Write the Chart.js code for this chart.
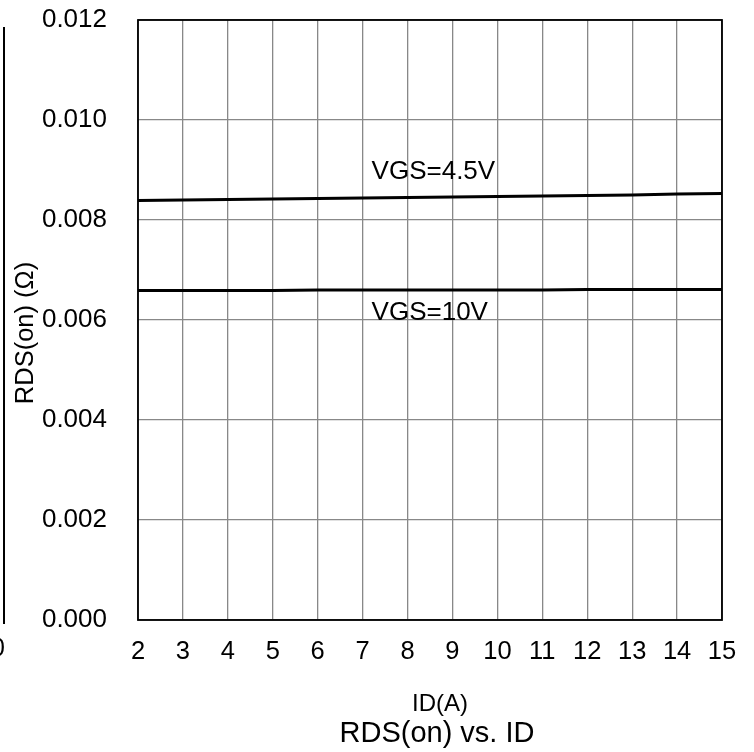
<!DOCTYPE html>
<html>
<head>
<meta charset="utf-8">
<script src="https://cdn.jsdelivr.net/npm/chart.js@4.4.1/dist/chart.umd.min.js"></script>
<style>
  html, body { margin: 0; padding: 0; background: #fff; }
  #wrap { position: relative; width: 754px; height: 752px; overflow: hidden; }
  #edge { position: absolute; left: 3px; top: 27px; width: 2px; height: 597px; background: #000; }
  #edgeText { position: absolute; left: -9px; top: 633px; font: 25px "Liberation Sans", Arial, sans-serif; color: #000; }
  canvas { position: absolute; left: 0; top: 0; }
</style>
</head>
<body>
<div id="wrap">
  <canvas id="c" width="754" height="752"></canvas>
  <div id="edge"></div>
  <div id="edgeText">0</div>
</div>
<script>
// ---- data ----
const idAmps = [2, 3, 4, 5, 6, 7, 8, 9, 10, 11, 12, 13, 14, 15];
const rdsVgs45 = [0.00839, 0.00840, 0.00841, 0.00842, 0.00843, 0.00844, 0.00845, 0.00846, 0.00847, 0.00848, 0.00849, 0.00850, 0.00852, 0.00853];
const rdsVgs10 = [0.00659, 0.00659, 0.00659, 0.00659, 0.00660, 0.00660, 0.00660, 0.00660, 0.00660, 0.00660, 0.00661, 0.00661, 0.00661, 0.00661];
const seriesNames = ["VGS=4.5V", "VGS=10V"];
const yTicks = [0, 0.002, 0.004, 0.006, 0.008, 0.010, 0.012];
const xTitle = "ID(A)";
const yTitle = "RDS(on) (\u03A9)";
const chartTitle = "RDS(on) vs. ID";

// label anchors (data coordinates)
const labelAnchors = [
  { text: seriesNames[0], x: 7.2, y: 0.00882 },
  { text: seriesNames[1], x: 7.2, y: 0.00601 }
];

const FONT = '"Liberation Sans", Arial, sans-serif';
Chart.defaults.color = '#000';
Chart.defaults.font.family = FONT;

const toXY = (xs, ys) => xs.map((x, i) => ({ x: x, y: ys[i] }));

const overlay = {
  id: 'overlay',
  afterDraw(chart) {
    const ctx = chart.ctx;
    const a = chart.chartArea;
    const xs = chart.scales.x, ys = chart.scales.y;
    ctx.save();
    // plot border
    ctx.strokeStyle = '#000';
    ctx.lineWidth = 1.8;
    ctx.strokeRect(a.left, a.top, a.right - a.left, a.bottom - a.top);
    // series labels
    ctx.fillStyle = '#000';
    ctx.font = '26px ' + FONT;
    ctx.textAlign = 'left';
    ctx.textBaseline = 'alphabetic';
    labelAnchors.forEach(l => {
      ctx.fillText(l.text, xs.getPixelForValue(l.x), ys.getPixelForValue(l.y));
    });
    // x title and chart title
    const cx = (a.left + a.right) / 2 + 10;
    ctx.textAlign = 'center';
    ctx.font = '24px ' + FONT;
    ctx.fillText(xTitle, cx, a.bottom + 91);
    ctx.font = '29px ' + FONT;
    ctx.fillText(chartTitle, cx - 3, a.bottom + 122);
    // y title
    ctx.translate(33, (a.top + a.bottom) / 2 + 13);
    ctx.rotate(-Math.PI / 2);
    ctx.font = '25.5px ' + FONT;
    ctx.fillText(yTitle, 0, 0);
    ctx.restore();
  }
};

new Chart(document.getElementById('c'), {
  type: 'scatter',
  data: {
    datasets: [
      { label: seriesNames[0], data: toXY(idAmps, rdsVgs45), showLine: true, borderColor: '#000', borderWidth: 3, pointRadius: 0, fill: false },
      { label: seriesNames[1], data: toXY(idAmps, rdsVgs10), showLine: true, borderColor: '#000', borderWidth: 3, pointRadius: 0, fill: false }
    ]
  },
  options: {
    responsive: false,
    animation: false,
    devicePixelRatio: 1,
    layout: { padding: { top: 20, right: 32, left: 0, bottom: 0 } },
    plugins: { legend: { display: false }, tooltip: { enabled: false }, title: { display: false } },
    scales: {
      x: {
        type: 'linear',
        min: idAmps[0],
        max: idAmps[idAmps.length - 1],
        afterFit(s) { s.height = 132; s.paddingLeft = 0; s.paddingRight = 0; },
        afterBuildTicks(s) { s.ticks = idAmps.map(v => ({ value: v })); },
        ticks: { font: { size: 25.5 }, padding: 17, color: '#000', maxRotation: 0, autoSkip: false },
        grid: { color: '#888888', lineWidth: 1.3, drawTicks: false },
        border: { display: false }
      },
      y: {
        type: 'linear',
        min: yTicks[0],
        max: yTicks[yTicks.length - 1],
        afterFit(s) { s.width = 138; s.paddingTop = 0; s.paddingBottom = 0; },
        afterBuildTicks(s) { s.ticks = yTicks.map(v => ({ value: v })); },
        ticks: { font: { size: 26 }, padding: 31, color: '#000', callback: v => Number(v).toFixed(3) },
        grid: { color: '#888888', lineWidth: 1.3, drawTicks: false },
        border: { display: false }
      }
    }
  },
  plugins: [overlay]
});
</script>
</body>
</html>
